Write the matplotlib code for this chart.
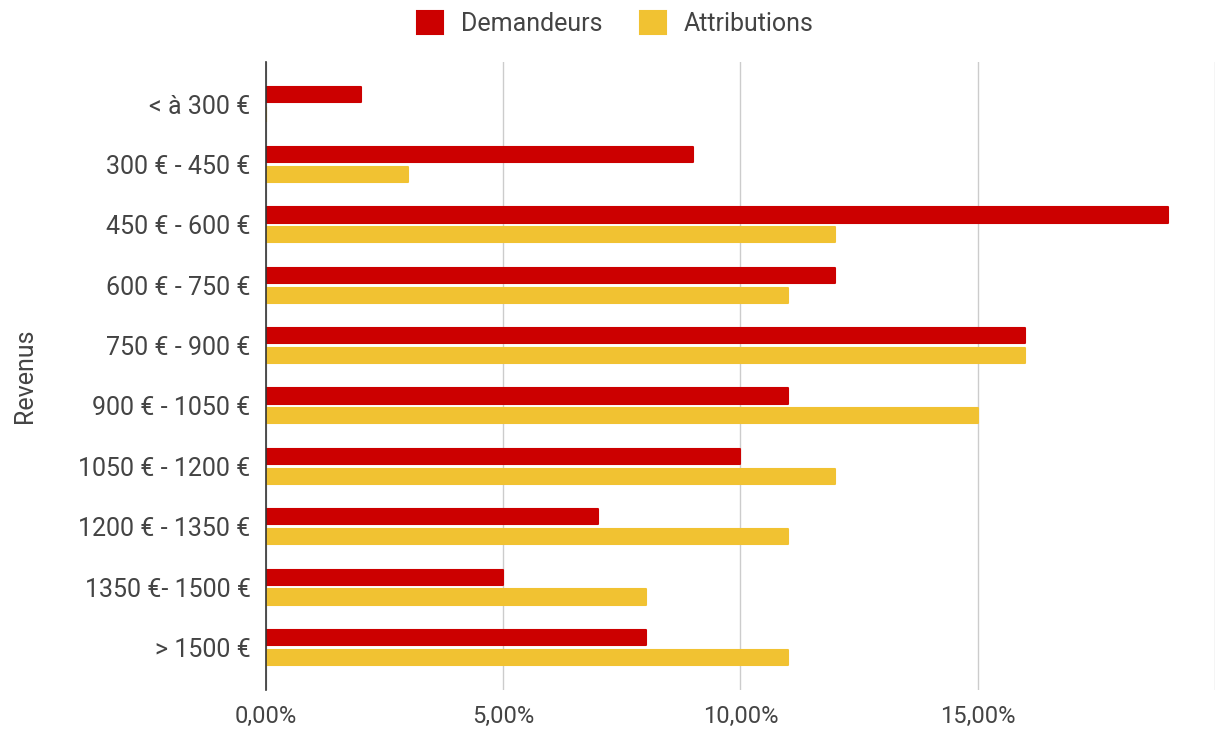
import matplotlib.pyplot as plt
from matplotlib.ticker import FuncFormatter

plt.rcParams['font.family'] = ['Roboto', 'DejaVu Sans']

tranches = ['< à 300 €', '300 € - 450 €', '450 € - 600 €', '600 € - 750 €',
            '750 € - 900 €', '900 € - 1050 €', '1050 € - 1200 €',
            '1200 € - 1350 €', '1350 €- 1500 €', '> 1500 €']
demandeurs = [2, 9, 19, 12, 16, 11, 10, 7, 5, 8]
attributions = [0, 3, 12, 11, 16, 15, 12, 11, 8, 11]

RED = '#cc0000'
YELLOW = '#f1c232'
TXT = '#444444'

fig = plt.figure(figsize=(12.18, 7.29), dpi=100)
ax = fig.add_axes([0.2184, 0.054, 0.7791, 0.861])

pos = list(range(len(tranches)))
h = 0.25
off = 0.165
ax.barh([p - off for p in pos], demandeurs, height=h, color=RED,
        edgecolor=RED, linewidth=1.5, joinstyle='round', label='Demandeurs', zorder=3)
ax.barh([p + off for p in pos], attributions, height=h, color=YELLOW,
        edgecolor=YELLOW, linewidth=1.5, joinstyle='round', label='Attributions', zorder=3)

ax.set_ylim(9.7, -0.7)
ax.set_xlim(0, 20)
ax.set_yticks(pos)
ax.set_yticklabels(tranches)
ax.set_xticks([0, 5, 10, 15, 20])
ax.xaxis.set_major_formatter(FuncFormatter(
    lambda v, _: '' if v >= 20 else ('%.2f%%' % v).replace('.', ',')))

ax.grid(axis='x', color='#cccccc', linewidth=1, zorder=0)
for s in ['top', 'right', 'bottom']:
    ax.spines[s].set_visible(False)
ax.spines['left'].set_color('#333333')
ax.spines['left'].set_linewidth(1.2)
ax.spines['left'].set_zorder(4)

ax.tick_params(axis='y', length=0, pad=11, labelsize=18, labelcolor=TXT)
ax.tick_params(axis='x', length=0, pad=11, labelsize=17, labelcolor=TXT)

ax.set_ylabel('Revenus', fontsize=18, color=TXT, labelpad=30)

leg = fig.legend(loc='upper center', bbox_to_anchor=(0.505, 1.016), ncol=2,
                 frameon=False, fontsize=18, handlelength=1.05, handleheight=1.05,
                 handletextpad=0.7, columnspacing=1.5)
for t in leg.get_texts():
    t.set_color(TXT)

fig.savefig('out.png', dpi=100)
